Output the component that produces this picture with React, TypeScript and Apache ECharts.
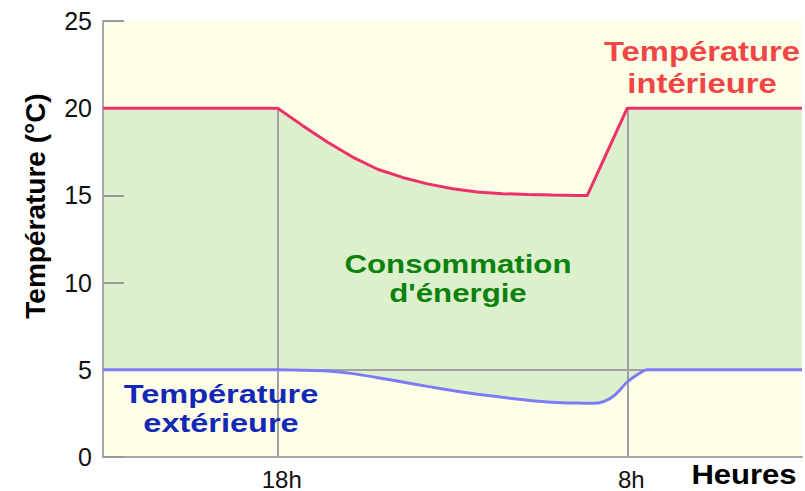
import React, { useEffect, useRef } from "react";
import * as echarts from "echarts";

// Hours (11 = 11h of day 1, 32 = 8h of the next day)
const interiorHours = [11, 18, 19, 20, 21, 22, 23, 24, 25, 26, 27, 28, 29, 30, 30.4, 32, 39];
const interiorTemps = [20, 20, 19.0, 18.05, 17.2, 16.5, 16.03, 15.66, 15.38, 15.2, 15.1, 15.05, 15.02, 15.0, 15.0, 20, 20];

const exteriorHours = [11, 18, 19, 20, 21, 22, 23, 24, 25, 26, 27, 28, 29, 30, 30.7, 31.1, 31.5, 32, 32.4, 32.8, 39];
const exteriorTemps = [5, 5, 4.98, 4.93, 4.78, 4.55, 4.3, 4.05, 3.81, 3.6, 3.42, 3.26, 3.14, 3.09, 3.08, 3.2, 3.55, 4.3, 4.72, 5, 5];

const xTickValues = [18, 32];
const xTickLabels = ["18h", "8h"];
const refHours = [18, 32];
const refTopTemp = 20;
const refTemp = 5;

const FONT = "'Liberation Sans', Arial, sans-serif";
const YELLOW = "#fefee8";
const GREEN = "#ddf0cd";

function label(text: string, x: number, y: number, size: number, sx: number, fill: string) {
  return {
    type: "text",
    z: 20,
    x,
    y,
    scaleX: sx,
    style: {
      text,
      x: 0,
      y: 0,
      align: "center",
      verticalAlign: "middle",
      font: `bold ${size}px ${FONT}`,
      fill,
    },
  };
}

export default function App() {
  const ref = useRef<HTMLDivElement>(null);
  useEffect(() => {
    if (!ref.current) return;
    const chart = echarts.init(ref.current, null, { renderer: "svg" });
    const intData = interiorHours.map((h, i) => [h, interiorTemps[i]]);
    const extData = exteriorHours.map((h, i) => [h, exteriorTemps[i]]);
    const markData: any[] = refHours.map((h) => [
      { coord: [h, 0] },
      { coord: [h, refTopTemp] },
    ]);
    markData.push([{ coord: [11, refTemp] }, { coord: [39, refTemp] }]);

    chart.setOption({
      animation: false,
      grid: {
        left: 103,
        right: 3,
        top: 21,
        bottom: 34,
        show: true,
        backgroundColor: YELLOW,
        borderWidth: 0,
      },
      xAxis: {
        type: "value",
        min: 11,
        max: 39,
        z: 4,
        axisLine: { show: true, lineStyle: { color: "#a8a8a8", width: 2 } },
        axisTick: { show: false },
        splitLine: { show: false },
        axisLabel: {
          customValues: xTickValues,
          formatter: (v: number) => xTickLabels[xTickValues.indexOf(v)] ?? "",
          fontSize: 24,
          color: "#111",
          fontFamily: FONT,
          margin: 10,
          padding: [0, 0, 0, 8],
        },
      },
      yAxis: {
        type: "value",
        min: 0,
        max: 25,
        interval: 5,
        z: 4,
        axisLine: { show: true, lineStyle: { color: "#a8a8a8", width: 2 } },
        axisTick: { show: true, inside: true, length: 21, lineStyle: { color: "#999", width: 2 } },
        splitLine: { show: false },
        axisLabel: { fontSize: 25, color: "#111", fontFamily: FONT, margin: 11 },
      },
      series: [
        {
          type: "line",
          data: intData,
          showSymbol: false,
          lineStyle: { width: 0, opacity: 0 },
          areaStyle: { color: GREEN, opacity: 1 },
          z: 1,
        },
        {
          type: "line",
          data: extData,
          showSymbol: false,
          smooth: 0.3,
          lineStyle: { width: 0, opacity: 0 },
          areaStyle: { color: YELLOW, opacity: 1 },
          z: 1,
          markLine: {
            silent: true,
            symbol: "none",
            label: { show: false },
            lineStyle: { color: "#a0a0a0", width: 2, type: "solid" },
            data: markData,
          },
        },
        {
          type: "line",
          data: intData,
          showSymbol: false,
          lineStyle: { color: "#ee3068", width: 3 },
          z: 10,
        },
        {
          type: "line",
          data: extData,
          showSymbol: false,
          smooth: 0.3,
          lineStyle: { color: "#7c7cf6", width: 3 },
          z: 10,
        },
      ],
      graphic: [
        label("Température", 702, 51, 28, 1.17, "#f04545"),
        label("intérieure", 702, 83, 28, 1.17, "#f04545"),
        label("Consommation", 458, 264, 26, 1.2, "#0c820c"),
        label("d'énergie", 458, 293, 26, 1.2, "#0c820c"),
        label("Température", 221, 394, 26, 1.25, "#1428b8"),
        label("extérieure", 221, 423, 26, 1.25, "#1428b8"),
        label("Heures", 744, 475, 27, 1.15, "#000"),
        {
          type: "text",
          z: 20,
          x: 35,
          y: 206,
          rotation: Math.PI / 2,
          style: {
            text: "Température (°C)",
            x: 0,
            y: 0,
            align: "center",
            verticalAlign: "middle",
            font: `bold 28px ${FONT}`,
            fill: "#000",
          },
        },
      ],
    });
    return () => chart.dispose();
  }, []);
  return (
    <div
      ref={ref}
      style={{ position: "fixed", left: 0, top: 0, width: 805, height: 491, background: "#fff" }}
    />
  );
}
